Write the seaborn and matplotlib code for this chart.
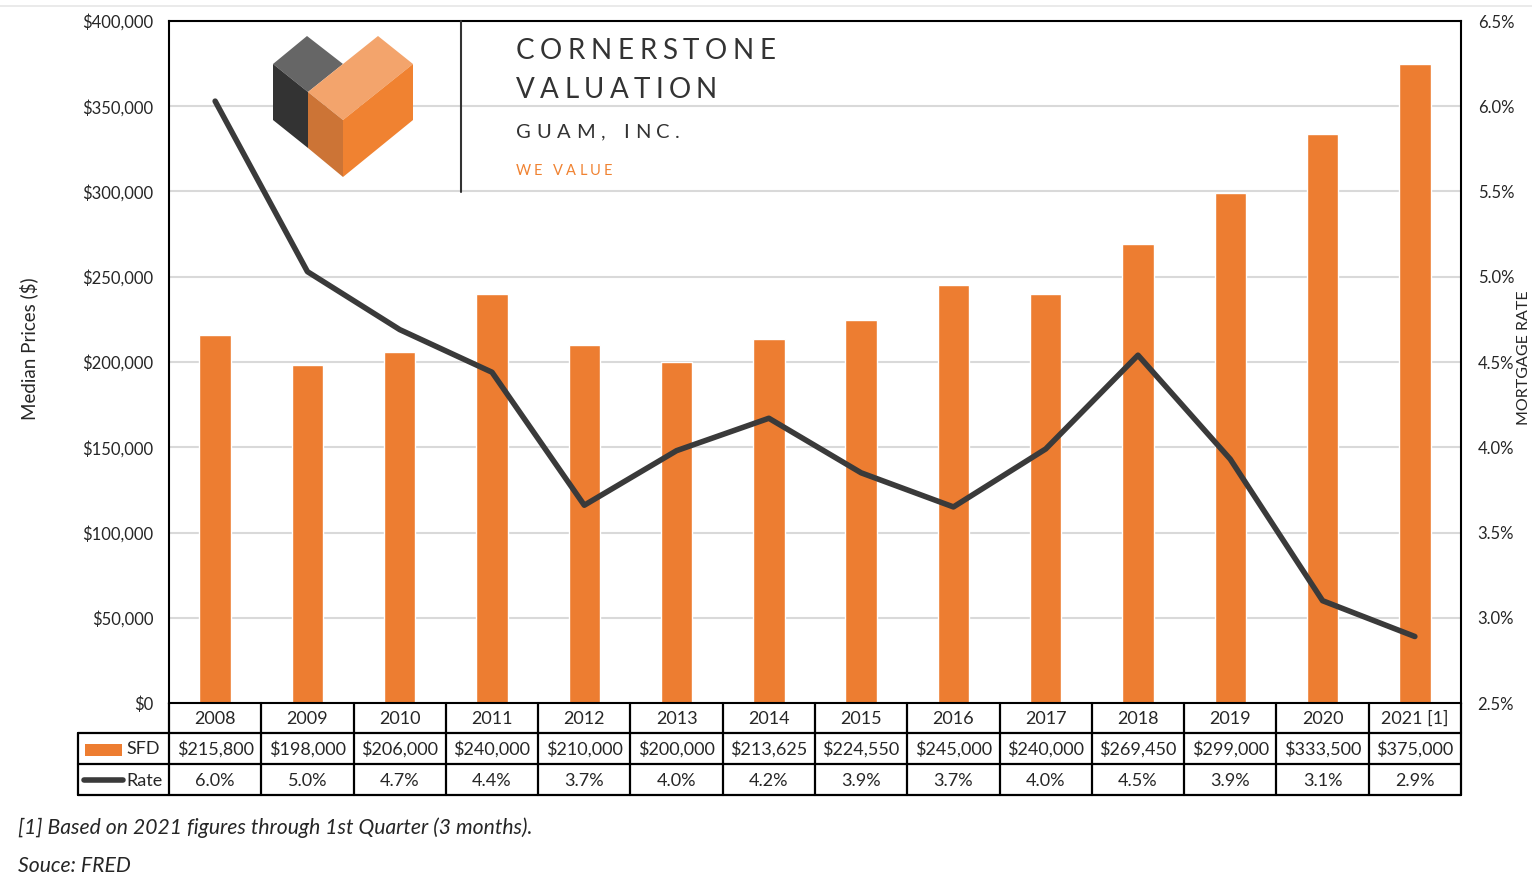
import numpy as np
import pandas as pd
import matplotlib
matplotlib.use("Agg")
import matplotlib.pyplot as plt
import seaborn as sns
from matplotlib.patches import Polygon, Rectangle
from matplotlib.lines import Line2D
from matplotlib.ticker import MultipleLocator, FuncFormatter
import matplotlib.transforms as mtransforms

# ---------------- data ----------------
years = ["2008", "2009", "2010", "2011", "2012", "2013", "2014", "2015",
         "2016", "2017", "2018", "2019", "2020", "2021 [1]"]
sfd_prices = [215800, 198000, 206000, 240000, 210000, 200000, 213625, 224550,
              245000, 240000, 269450, 299000, 333500, 375000]
mortgage_rate = [6.03, 5.03, 4.69, 4.44, 3.66, 3.98, 4.17, 3.85,
                 3.65, 3.99, 4.54, 3.93, 3.10, 2.89]
rate_labels = ["6.0%", "5.0%", "4.7%", "4.4%", "3.7%", "4.0%", "4.2%", "3.9%",
               "3.7%", "4.0%", "4.5%", "3.9%", "3.1%", "2.9%"]

sns.set_style("white")
plt.rcParams['font.family'] = ['Lato', 'DejaVu Sans']

W, H = 1532, 876
fig = plt.figure(figsize=(W / 100, H / 100), dpi=100)
fig.patch.set_facecolor("white")
renderer = fig.canvas.get_renderer()


def fx(x):
    return x / W


def fy(y):
    return 1 - y / H


TXT = "#262626"
ORANGE = "#ED7D31"
LINEC = "#3A3A3A"
TS = 13  # table font size

ax = fig.add_axes([fx(169), fy(703), 1292 / W, 682 / H])
df = pd.DataFrame({"Year": years, "SFD": sfd_prices, "Rate": mortgage_rate})
sns.barplot(data=df, x="Year", y="SFD", color=ORANGE, saturation=1,
            width=0.34, ax=ax, zorder=2)
ax.set_xlim(-0.5, 13.5)
ax.set_ylim(0, 400000)
ax.yaxis.set_major_locator(MultipleLocator(50000))
ax.yaxis.set_major_formatter(FuncFormatter(lambda v, p: f"${v:,.0f}"))
ax.grid(axis="y", color="#D9D9D9", lw=1.5)
ax.set_axisbelow(True)
ax.set_xticks([])
ax.set_xlabel("")
ax.set_ylabel("")
ax.tick_params(axis="y", length=0, pad=11, labelsize=12, labelcolor=TXT)
for s in ax.spines.values():
    s.set_color("black")
    s.set_linewidth(1.5)
    s.set_visible(True)

ax2 = ax.twinx()
sns.lineplot(x=np.arange(len(years)), y=mortgage_rate, ax=ax2,
             color=LINEC, lw=4, zorder=3)
ax2.set_xlim(-0.5, 13.5)
ax2.set_ylim(2.5, 6.5)
ax2.yaxis.set_major_locator(MultipleLocator(0.5))
ax2.yaxis.set_major_formatter(FuncFormatter(lambda v, p: f"{v:.1f}%"))
ax2.tick_params(axis="y", length=0, pad=12, labelsize=12, labelcolor=TXT)
ax2.set_ylabel("")
for s in ax2.spines.values():
    s.set_visible(False)

# --------------- data table ---------------
tr = mtransforms.blended_transform_factory(ax.transData, ax.transAxes)
ah = 682.0
r0, r1, r2, r3 = 0.0, -30 / ah, -61 / ah, -92 / ah
cw = 1292 / 14
xl = -0.5 - (169 - 78) / cw
xr = 13.5
lk = dict(color="black", lw=1.6, transform=tr, clip_on=False)
for yy in (r1, r2, r3):
    ax.add_line(Line2D([xl, xr], [yy, yy], **lk))
for i in range(len(years) + 1):
    ax.add_line(Line2D([-0.5 + i, -0.5 + i], [r0, r3], **lk))
ax.add_line(Line2D([xl, xl], [r1, r3], **lk))

tk = dict(transform=tr, ha="center", va="center", fontsize=TS,
          color=TXT, clip_on=False)
for i, (yr, p, rl) in enumerate(zip(years, sfd_prices, rate_labels)):
    ax.text(i, (r0 + r1) / 2 - 1 / ah, yr, **tk)
    ax.text(i, (r1 + r2) / 2 - 1 / ah, f"${p:,.0f}", **tk)
    ax.text(i, (r2 + r3) / 2 - 1 / ah, rl, **tk)

ax.add_patch(Rectangle((xl + 7 / cw, -53 / ah), 37 / cw, 12 / ah,
                       facecolor=ORANGE, edgecolor="none",
                       transform=tr, clip_on=False))
ax.add_line(Line2D([xl + 6 / cw, xl + 45 / cw], [-77 / ah, -77 / ah],
                   color=LINEC, lw=4, solid_capstyle="round",
                   transform=tr, clip_on=False))
ax.text(xl + 48 / cw, (r1 + r2) / 2 - 1 / ah, "SFD", transform=tr, ha="left",
        va="center", fontsize=TS, color=TXT, clip_on=False)
ax.text(xl + 48 / cw, (r2 + r3) / 2 - 1 / ah, "Rate", transform=tr, ha="left",
        va="center", fontsize=TS, color=TXT, clip_on=False)

# --------------- axis titles ---------------
fig.text(fx(29), fy(349), "Median Prices ($)", rotation=90, ha="center",
         va="center", fontsize=13.5, color=TXT)
fig.text(fx(1517), fy(358), "MORTGAGE RATE", rotation=90, ha="left",
         va="center", fontsize=11.5, color=TXT)

# --------------- footnotes ---------------
fig.text(fx(18), fy(828), "[1] Based on 2021 figures through 1st Quarter (3 months).",
         ha="left", va="center", fontsize=15.2, style="italic", color=TXT)
fig.text(fx(18), fy(866), "Souce: FRED", ha="left", va="center",
         fontsize=15.2, style="italic", color=TXT)

# top thin rule
fig.add_artist(Line2D([0, 1], [fy(6), fy(6)], color="#E6E6E6", lw=1.2))

# --------------- logo ---------------
def poly(pts, col):
    p = Polygon([(fx(x), fy(y)) for x, y in pts], closed=True,
                facecolor=col, edgecolor="none", transform=fig.transFigure,
                zorder=5)
    fig.add_artist(p)


A = (273, 64); B = (307, 36); C = (343, 64); D = (308, 92)
E = (378, 36); F = (413, 64); G = (343, 120); Hh = (413, 120)
I = (343, 177); J = (308, 148); K = (273, 120)
poly([A, B, C, D], "#666666")
poly([A, D, J, K], "#333333")
poly([D, E, F, G], "#F3A46C")
poly([D, G, I, J], "#CC7436")
poly([G, F, Hh, I], "#F08231")

fig.add_artist(Line2D([fx(461), fx(461)], [fy(21), fy(192)],
                      color="#333333", lw=1.5, zorder=5))


def tracked(x0, x1, y, s, size, color, weight="normal"):
    """Place letters of s evenly so the word spans x0..x1 (pixels)."""
    widths = []
    for ch in s:
        t = fig.text(0, 0, ch if ch != " " else "n", fontsize=size,
                     fontweight=weight)
        w = t.get_window_extent(renderer).width
        t.remove()
        widths.append(w if ch != " " else w * 0.6)
    gap = (x1 - x0 - sum(widths)) / (len(s) - 1)
    x = x0
    for ch, w in zip(s, widths):
        if ch != " ":
            fig.text(fx(x), fy(y), ch, ha="left", va="center", fontsize=size,
                     color=color, fontweight=weight, zorder=6)
        x += w + gap


tracked(516, 775, 51, "CORNERSTONE", 20, "#333333")
tracked(516, 717, 90, "VALUATION", 20, "#333333")
tracked(516, 680, 132, "GUAM, INC.", 14.5, "#333333")
tracked(516, 612, 171, "WE VALUE", 10.5, "#F08231")

fig.savefig("out.png", dpi=100)
